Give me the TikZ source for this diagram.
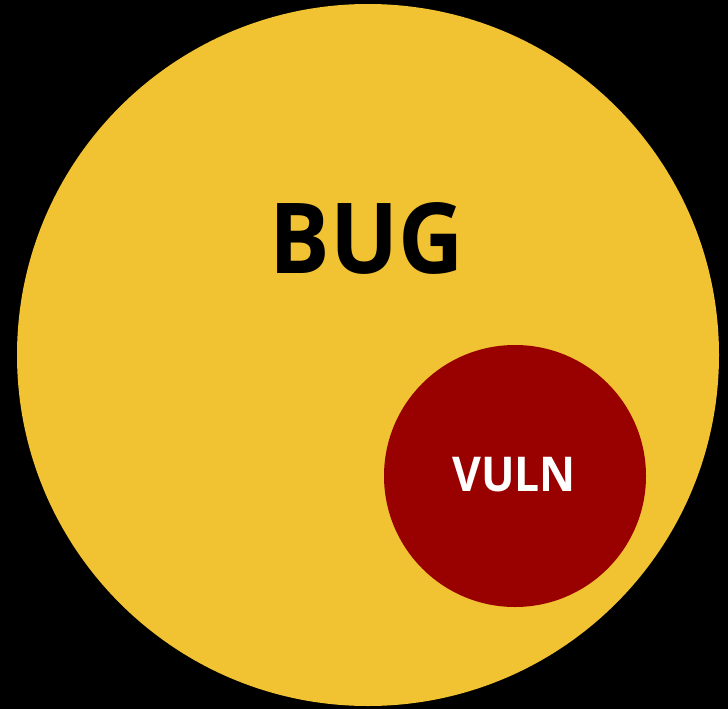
\documentclass[tikz,border=0pt]{standalone}
\usepackage{fontspec}
\setmainfont{Open Sans}
\definecolor{bugyellow}{HTML}{F1C232}
\definecolor{vulnred}{HTML}{990000}
\begin{document}
\begin{tikzpicture}[x=1pt,y=-1pt,
  lbl/.style={inner sep=0pt, anchor=center}]
\fill[black] (0,0) rectangle (728,709);
\useasboundingbox (0,0) rectangle (728,709);
\node[circle, fill=bugyellow, minimum size=702pt, inner sep=0pt] (bug) at (368,355) {};
\node[circle, fill=vulnred, minimum size=262pt, inner sep=0pt] (vuln) at (515,476) {};
\node[lbl, font=\fontsize{98}{98}\selectfont\bfseries, text=black] (bugt) at (367,238) {\scalebox{0.92}[1]{BUG}};
\node[lbl, font=\fontsize{48}{48}\selectfont\bfseries, text=white] (vulnt) at (514,475) {\scalebox{0.925}[1]{VULN}};
\end{tikzpicture}
\end{document}
